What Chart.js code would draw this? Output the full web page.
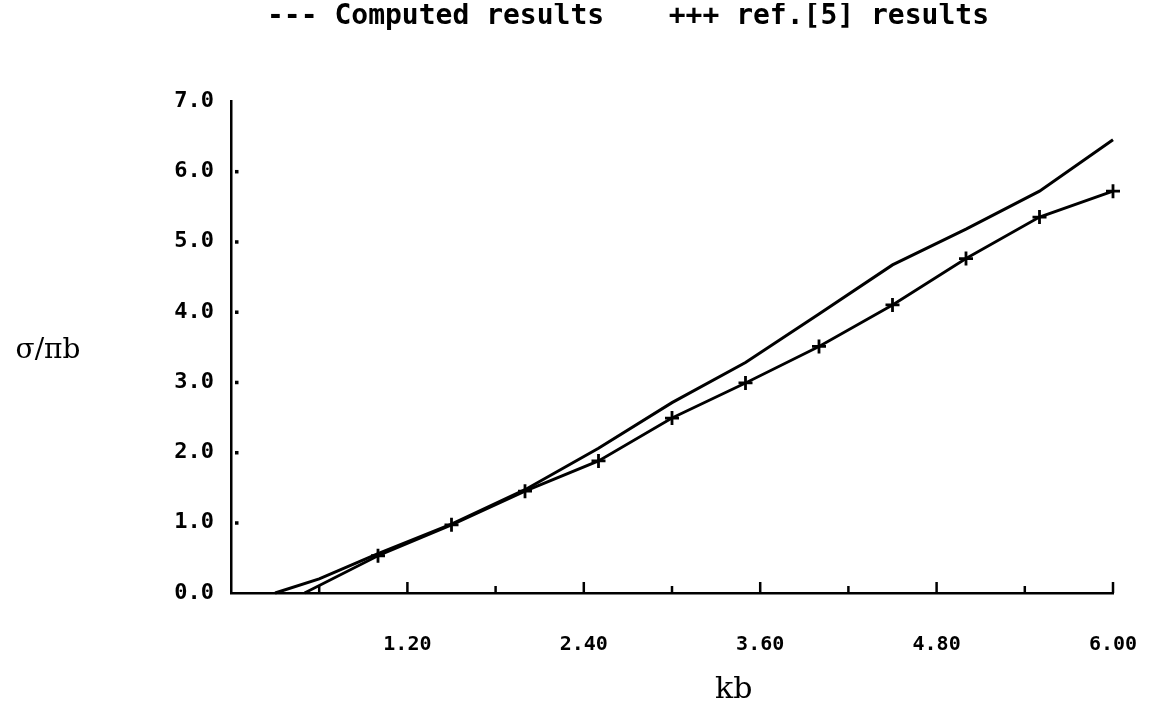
<!DOCTYPE html>
<html><head><meta charset="utf-8">
<script src="https://cdn.jsdelivr.net/npm/chart.js@4.4.1/dist/chart.umd.min.js"></script>
<style>html,body{margin:0;padding:0;background:#fff;}#wrap{width:1167px;height:708px;position:relative;}</style>
</head><body><div id="wrap"><canvas id="c" width="1167" height="708"></canvas></div>
<script>
// ---- data ----
const computedX = [0.3, 0.6, 1.0, 1.5, 2.0, 2.5, 3.0, 3.5, 4.0, 4.5, 5.0, 5.5, 6.0];
const computedY = [0.0, 0.2, 0.56, 0.98, 1.47, 2.06, 2.71, 3.28, 3.97, 4.67, 5.18, 5.72, 6.45];
const refX = [0.5, 1.0, 1.5, 2.0, 2.5, 3.0, 3.5, 4.0, 4.5, 5.0, 5.5, 6.0];
const refY = [0.0, 0.53, 0.97, 1.45, 1.88, 2.49, 2.99, 3.51, 4.10, 4.76, 5.35, 5.72];
const refMarked = [false, true, true, true, true, true, true, true, true, true, true, true];
const xMajorTicks = [1.2, 2.4, 3.6, 4.8, 6.0];
const xMinorTicks = [0.6, 1.8, 3.0, 4.2, 5.4];
const yTicks = [0, 1, 2, 3, 4, 5, 6, 7];
const legendTexts = ['--- Computed results   ', '+++ ref.[5] results'];
const xTitle = 'kb';
const yTitle = 'σ/πb';

const toPts = (xs, ys) => xs.map((v, i) => ({x: v, y: ys[i]}));
const isMajor = v => xMajorTicks.some(t => Math.abs(t - v) < 1e-6);

const decor = {
  id: 'decor',
  afterDraw(chart) {
    const {ctx, scales: {x, y}} = chart;
    ctx.save();
    ctx.strokeStyle = '#000'; ctx.fillStyle = '#000'; ctx.lineWidth = 2.5;
    const y0 = y.getPixelForValue(0);
    xMajorTicks.concat(xMinorTicks).forEach(v => {
      const px = x.getPixelForValue(v);
      const len = isMajor(v) ? 11 : 7;
      ctx.beginPath(); ctx.moveTo(px, y0); ctx.lineTo(px, y0 - len); ctx.stroke();
    });
    yTicks.forEach(v => {
      if (v <= 0 || v >= 7) return;
      const py = y.getPixelForValue(v);
      ctx.fillRect(x.left + 4, py - 1.5, 3.5, 3.5);
    });
    ctx.textAlign = 'center'; ctx.textBaseline = 'middle';
    ctx.font = '28px "DejaVu Serif"';
    ctx.fillText(yTitle, 48, (y.top + y.bottom) / 2 + 4);
    ctx.font = '30px "DejaVu Serif"';
    ctx.fillText(xTitle, x.getPixelForValue(3.42), 690);
    ctx.restore();
  }
};

new Chart(document.getElementById('c'), {
  type: 'line',
  data: {
    datasets: [
      {
        label: 'Computed results',
        data: toPts(computedX, computedY),
        borderColor: '#000', borderWidth: 3, pointRadius: 0, tension: 0, fill: false, clip: false
      },
      {
        label: 'ref.[5] results',
        data: toPts(refX, refY),
        borderColor: '#000', borderWidth: 2.8, tension: 0, fill: false, clip: false,
        pointStyle: 'cross', pointRadius: refMarked.map(m => m ? 7 : 0),
        pointBorderWidth: 2.8, pointBorderColor: '#000'
      }
    ]
  },
  options: {
    responsive: false, animation: false,
    layout: {padding: {left: 129, right: 54, top: 3, bottom: 11}},
    plugins: {
      legend: {
        display: true, position: 'top', weight: 3000,
        labels: {
          boxWidth: 0, boxHeight: 0, padding: 0, color: '#000',
          font: {family: '"DejaVu Sans Mono"', size: 28, weight: 'bold'},
          generateLabels: () => legendTexts.map((t, i) => ({
            text: t, fillStyle: 'rgba(0,0,0,0)', strokeStyle: 'rgba(0,0,0,0)',
            lineWidth: 0, hidden: false, datasetIndex: i, fontColor: '#000'
          }))
        }
      },
      title: {display: true, text: ' ', weight: 100, font: {size: 1}, padding: {top: 0, bottom: 59}},
      tooltip: {enabled: false}
    },
    scales: {
      x: {
        type: 'linear', min: 0, max: 6,
        grid: {display: false, drawTicks: false},
        border: {display: true, color: '#000', width: 2.5},
        afterFit: s => { s.paddingRight = 0; s.paddingLeft = 0; },
        ticks: {
          stepSize: 0.6, padding: 40, color: '#000', maxRotation: 0, autoSkip: false,
          font: {family: '"DejaVu Sans Mono"', size: 20, weight: 'bold'},
          callback: v => (v > 0 && isMajor(v)) ? v.toFixed(2) : ''
        }
      },
      y: {
        type: 'linear', min: 0, max: 7,
        grid: {display: false, drawTicks: false},
        border: {display: true, color: '#000', width: 2.5},
        afterFit: s => { s.width = 102; },
        ticks: {
          stepSize: 1, padding: 17, color: '#000',
          font: {family: '"DejaVu Sans Mono"', size: 22, weight: 'bold'},
          callback: v => yTicks.includes(v) ? v.toFixed(1) : ''
        }
      }
    }
  },
  plugins: [decor]
});
</script>
</body></html>
